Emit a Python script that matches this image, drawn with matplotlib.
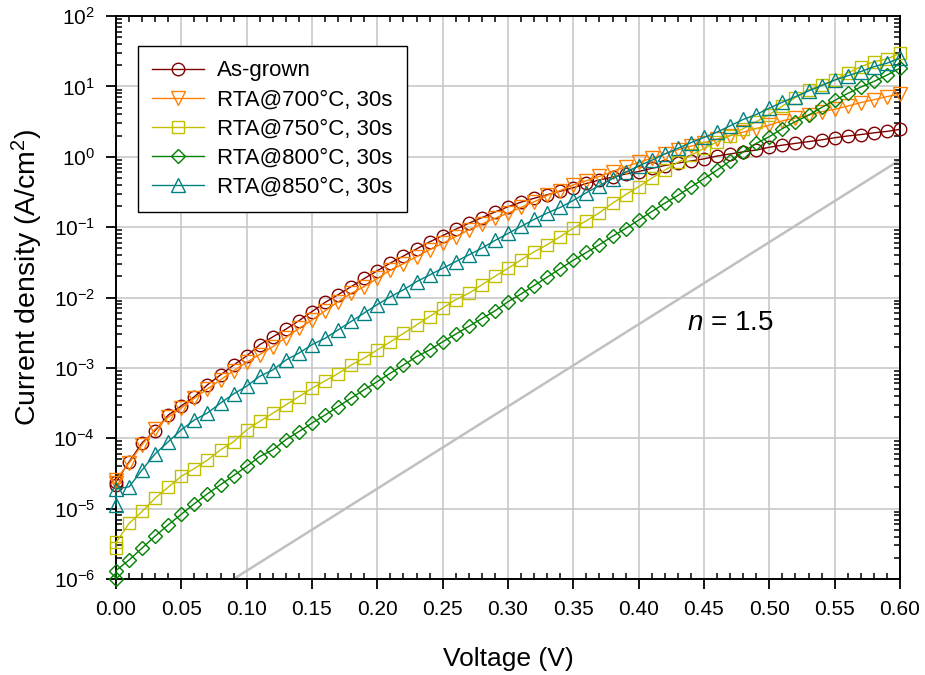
import numpy as np
import matplotlib
matplotlib.use("Agg")
import matplotlib.pyplot as plt
from matplotlib.ticker import FixedLocator, LogLocator, FuncFormatter, MultipleLocator, NullFormatter

plt.rcParams['font.family'] = ['Liberation Sans', 'DejaVu Sans']
plt.rcParams['mathtext.fontset'] = 'custom'
plt.rcParams['mathtext.rm'] = 'Liberation Sans'
plt.rcParams['mathtext.it'] = 'Liberation Sans:italic'
plt.rcParams['mathtext.bf'] = 'Liberation Sans:bold'

# ---------------- data (voltage in V, log10 of current density in A/cm^2) ----------------
voltage = [0.00, 0.00,
           0.01, 0.02, 0.03, 0.04, 0.05, 0.06, 0.07, 0.08, 0.09, 0.10,
           0.11, 0.12, 0.13, 0.14, 0.15, 0.16, 0.17, 0.18, 0.19, 0.20,
           0.21, 0.22, 0.23, 0.24, 0.25, 0.26, 0.27, 0.28, 0.29, 0.30,
           0.31, 0.32, 0.33, 0.34, 0.35, 0.36, 0.37, 0.38, 0.39, 0.40,
           0.41, 0.42, 0.43, 0.44, 0.45, 0.46, 0.47, 0.48, 0.49, 0.50,
           0.51, 0.52, 0.53, 0.54, 0.55, 0.56, 0.57, 0.58, 0.59, 0.60]

logJ_as_grown = [-4.66, -4.62,
                 -4.335, -4.065, -3.89, -3.67, -3.54, -3.41, -3.24, -3.10, -2.96, -2.83,
                 -2.67, -2.56, -2.45, -2.33, -2.20, -2.07, -1.96, -1.845, -1.73, -1.62,
                 -1.51, -1.41, -1.31, -1.21, -1.12, -1.03, -0.945, -0.865, -0.785, -0.71,
                 -0.645, -0.59, -0.54, -0.49, -0.44, -0.38, -0.33, -0.29, -0.245, -0.21,
                 -0.165, -0.125, -0.09, -0.06, -0.03, 0.01, 0.04, 0.07, 0.095, 0.135,
                 0.165, 0.19, 0.215, 0.24, 0.27, 0.295, 0.315, 0.34, 0.36, 0.39]

logJ_rta700 = [-4.64, -4.59,
               -4.35, -4.09, -3.87, -3.70, -3.57, -3.43, -3.30, -3.17, -3.04, -2.92,
               -2.81, -2.70, -2.57, -2.44, -2.32, -2.19, -2.06, -1.94, -1.845, -1.73,
               -1.61, -1.52, -1.42, -1.32, -1.23, -1.135, -1.04, -0.955, -0.875, -0.80,
               -0.72, -0.64, -0.55, -0.48, -0.40, -0.34, -0.28, -0.21, -0.14, -0.08,
               -0.02, 0.04, 0.10, 0.15, 0.20, 0.25, 0.30, 0.35, 0.40, 0.45,
               0.51, 0.55, 0.59, 0.64, 0.675, 0.72, 0.77, 0.81, 0.855, 0.89]

logJ_rta750 = [-5.56, -5.48,
               -5.21, -5.04, -4.85, -4.695, -4.54, -4.43, -4.31, -4.165, -4.05, -3.88,
               -3.76, -3.645, -3.525, -3.41, -3.29, -3.185, -3.08, -2.96, -2.86, -2.745,
               -2.63, -2.51, -2.39, -2.27, -2.15, -2.03, -1.94, -1.82, -1.70, -1.585,
               -1.465, -1.35, -1.25, -1.135, -1.015, -0.91, -0.795, -0.66, -0.54, -0.425,
               -0.305, -0.19, -0.08, 0.02, 0.12, 0.21, 0.30, 0.40, 0.50, 0.60,
               0.72, 0.84, 0.95, 1.02, 1.09, 1.19, 1.28, 1.35, 1.39, 1.47]

logJ_rta800 = [-6.00, -5.88,
               -5.73, -5.56, -5.39, -5.23, -5.08, -4.93, -4.79, -4.66, -4.53, -4.40,
               -4.26, -4.165, -4.02, -3.905, -3.785, -3.67, -3.55, -3.43, -3.31, -3.195,
               -3.075, -2.96, -2.84, -2.745, -2.63, -2.52, -2.41, -2.30, -2.19, -2.06,
               -1.95, -1.83, -1.71, -1.59, -1.47, -1.36, -1.25, -1.13, -1.02, -0.90,
               -0.78, -0.66, -0.55, -0.43, -0.31, -0.19, -0.06, 0.07, 0.19, 0.285,
               0.40, 0.50, 0.59, 0.70, 0.80, 0.90, 0.99, 1.07, 1.16, 1.26]

logJ_rta850 = [-4.95, -4.72,
               -4.69, -4.45, -4.22, -4.05, -3.88, -3.74, -3.64, -3.50, -3.37, -3.26,
               -3.12, -3.03, -2.89, -2.79, -2.67, -2.58, -2.46, -2.34, -2.22, -2.10,
               -1.99, -1.89, -1.775, -1.68, -1.585, -1.49, -1.395, -1.30, -1.19, -1.09,
               -0.99, -0.89, -0.80, -0.72, -0.62, -0.51, -0.41, -0.31, -0.22, -0.13,
               -0.05, 0.04, 0.12, 0.20, 0.275, 0.35, 0.44, 0.53, 0.60, 0.69,
               0.775, 0.855, 0.935, 1.01, 1.09, 1.15, 1.21, 1.28, 1.33, 1.40]

labels = ["As-grown", "RTA@700°C, 30s", "RTA@750°C, 30s", "RTA@800°C, 30s", "RTA@850°C, 30s"]
colors = ["#800000", "#FF8000", "#C0C000", "#008000", "#008080"]
markers = ["o", "v", "s", "D", "^"]

# ideality reference line n = 1.5 (two end points)
ref_v = [0.09, 0.60]
ref_j = [1.0e-6, 0.9]
ref_label = "$n$ = 1.5"

x_ticks = [0.00, 0.05, 0.10, 0.15, 0.20, 0.25, 0.30, 0.35, 0.40, 0.45, 0.50, 0.55, 0.60]
y_ticks = [1e-6, 1e-5, 1e-4, 1e-3, 1e-2, 1e-1, 1e0, 1e1, 1e2]

# ---------------- figure ----------------
fig = plt.figure(figsize=(9.25, 6.75), dpi=100)
ax = fig.add_axes([116/925, 1 - 579/675, (900-116)/925, (579-16)/675])

grid_c = "#C8C8C8"
for xv in x_ticks[1:-1]:
    ax.axvline(xv, color=grid_c, lw=1.2, zorder=0)
for yv in y_ticks[1:-1]:
    ax.axhline(yv, color=grid_c, lw=1.2, zorder=0)

ax.plot(ref_v, ref_j, color="#C0C0C0", lw=1.8, zorder=1)

series = [logJ_as_grown, logJ_rta700, logJ_rta750, logJ_rta800, logJ_rta850]
ms = {"o": 9.0, "v": 9.5, "s": 8.5, "D": 7.5, "^": 9.5}
for lj, lab, c, m in zip(series, labels, colors, markers):
    J = 10.0 ** np.array(lj)
    ax.plot(voltage, J, color=c, lw=1.0, marker=m, markersize=ms[m],
            markerfacecolor="none", markeredgecolor=c, markeredgewidth=1.0,
            label=lab, zorder=3, clip_on=False)

ax.set_yscale("log")
ax.set_xlim(0.0, 0.6)
ax.set_ylim(1e-6, 1e2)

ax.xaxis.set_major_locator(FixedLocator(x_ticks))
ax.xaxis.set_minor_locator(MultipleLocator(0.01))
ax.xaxis.set_major_formatter(FuncFormatter(lambda v, p: f"{v:.2f}"))
ax.yaxis.set_major_locator(FixedLocator(y_ticks))
ax.yaxis.set_minor_locator(LogLocator(base=10, subs=np.arange(2, 10), numticks=20))
ax.yaxis.set_minor_formatter(NullFormatter())
ax.yaxis.set_major_formatter(FuncFormatter(lambda v, p: r"$\mathregular{10^{%d}}$" % int(round(np.log10(v)))))

ax.tick_params(which="major", direction="out", length=7, width=1.3, labelsize=15,
               top=False, right=False, pad=8, colors="black")
ax.tick_params(which="minor", direction="in", length=4.5, width=1.1,
               top=True, right=True, bottom=True, left=True)
for s in ax.spines.values():
    s.set_linewidth(1.4)

ax.set_xlabel("Voltage (V)", fontsize=19, labelpad=20)
ax.set_ylabel("Current density (A/cm$^2$)", fontsize=20.5)
ax.yaxis.set_label_coords(-0.090, 0.536)

ax.text(0.437, 10 ** -2.46, ref_label, fontsize=20, va="baseline", ha="left")

leg = ax.legend(loc="upper left", bbox_to_anchor=(0.028, 0.947), borderaxespad=0,
                fontsize=16, frameon=True, fancybox=False, framealpha=1,
                edgecolor="black", handlelength=2.3, handletextpad=0.6,
                labelspacing=0.36, borderpad=0.65)
leg.get_frame().set_linewidth(1.0)

fig.savefig("out.png", dpi=100)
